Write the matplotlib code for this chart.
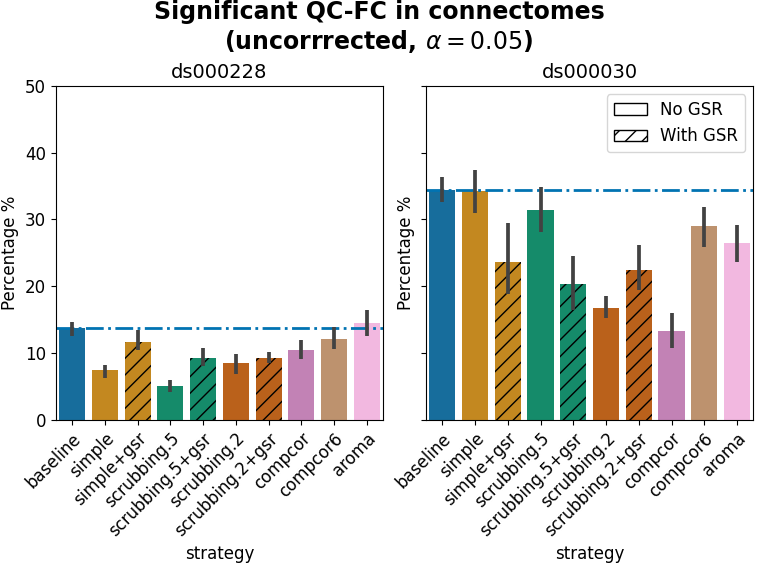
""" QC-FC significance bar chart for two datasets. """

import matplotlib
matplotlib.use('Agg')
import matplotlib.pyplot as plt
import matplotlib.patches as mpatches
import seaborn as sns

STRATEGIES = ['baseline', 'simple', 'simple+gsr', 'scrubbing.5',
              'scrubbing.5+gsr', 'scrubbing.2', 'scrubbing.2+gsr',
              'compcor', 'compcor6', 'aroma']
GSR = [False, False, True, False, True, False, True, False, False, False]
COLOR_INDEX = [0, 1, 1, 2, 2, 3, 3, 4, 5, 6]
DATASETS = ['ds000228', 'ds000030']

# Mean percentage and confidence interval (low, high).
MEAN_228 = [13.7, 7.4, 11.7, 5.1, 9.2, 8.5, 9.2, 10.4, 12.1, 14.5]
LOW_228 = [12.6, 6.2, 10.4, 4.1, 8.1, 6.9, 8.5, 9.1, 10.6, 12.6]
HIGH_228 = [14.7, 8.2, 13.5, 6.0, 10.7, 9.8, 10.1, 11.9, 13.9, 16.5]

MEAN_030 = [34.4, 34.3, 23.6, 31.4, 20.3, 16.8, 22.5, 13.3, 29.0, 26.4]
LOW_030 = [32.6, 30.9, 18.8, 28.1, 16.5, 15.2, 19.5, 10.7, 25.9, 23.7]
HIGH_030 = [36.4, 37.4, 29.5, 34.9, 24.6, 18.6, 26.1, 16.0, 31.9, 29.2]

palette = sns.color_palette('colorblind', desat=0.75)
plt.rcParams['hatch.color'] = 'black'

fig, axes = plt.subplots(1, 2, figsize=(7.58, 5.65), dpi=100, sharey=True)

for ax, name, mean, low, high in zip(axes, DATASETS,
                                     [MEAN_228, MEAN_030],
                                     [LOW_228, LOW_030],
                                     [HIGH_228, HIGH_030]):
    x = range(len(STRATEGIES))
    colors = [palette[i] for i in COLOR_INDEX]
    bars = ax.bar(x, mean, width=0.8, color=colors, edgecolor='black',
                  linewidth=0)
    for bar, gsr in zip(bars, GSR):
        if gsr:
            bar.set_hatch('//')
    ax.vlines(x, low, high, color='#424242', linewidth=2.7, zorder=3)
    ax.axhline(mean[0], color='#0173b2', linestyle='-.', linewidth=2)
    ax.set_xlim(-0.5, len(STRATEGIES) - 0.5)
    ax.set_ylim(0, 50)
    ax.set_xticks(list(x))
    ax.set_xticklabels(STRATEGIES, rotation=45, ha='right',
                       rotation_mode='anchor', fontsize=12)
    ax.tick_params(axis='y', labelsize=12)
    ax.set_title(name, fontsize=14)
    ax.set_xlabel('strategy', fontsize=12)
    ax.set_ylabel('Percentage %', fontsize=12)
    ax.yaxis.set_tick_params(labelleft=(ax is axes[0]))

handles = [mpatches.Patch(facecolor='white', edgecolor='black', label='No GSR'),
           mpatches.Patch(facecolor='white', edgecolor='black', hatch='//',
                          label='With GSR')]
axes[1].legend(handles=handles, loc='upper right', fontsize=12)

fig.suptitle('Significant QC-FC in connectomes\n'
             r'(uncorrrected, $\alpha=0.05$)', fontsize=17, fontweight='bold',
             y=1.0)
fig.subplots_adjust(left=0.0735, right=0.994, top=0.848, bottom=0.257,
                    wspace=0.13)
fig.savefig('out.png', dpi=100)
